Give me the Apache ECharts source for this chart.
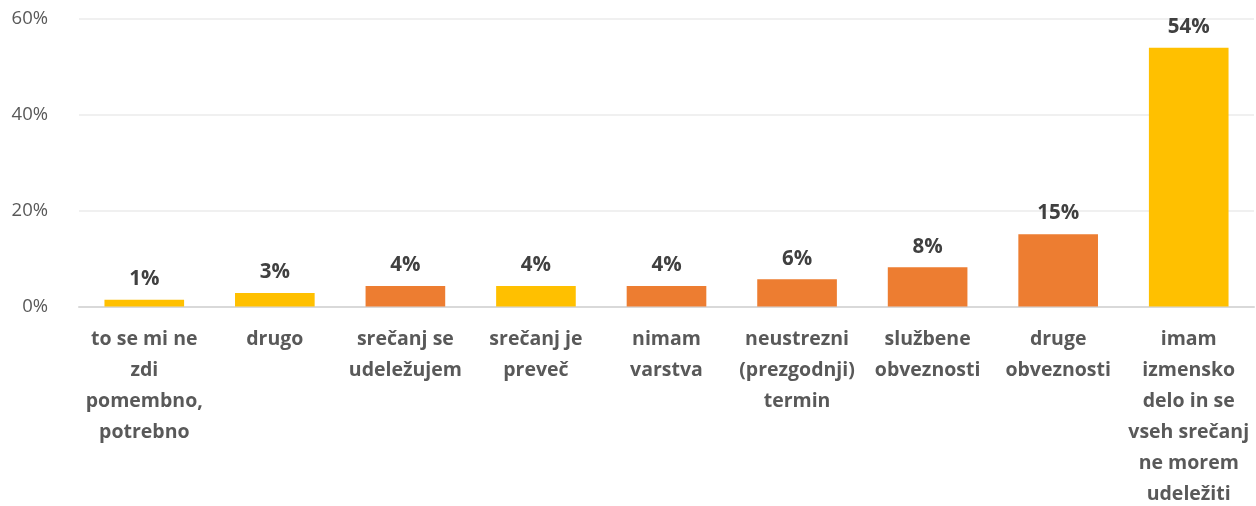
<!DOCTYPE html>
<html>
<head>
<meta charset="utf-8">
<script src="https://cdn.jsdelivr.net/npm/echarts@6/dist/echarts.min.js"></script>
<style>html,body{margin:0;padding:0;background:#fff}#c{width:1256px;height:506px}</style>
</head>
<body>
<div id="c"></div>
<script>
const categories = [
  "to se mi ne\nzdi\npomembno,\npotrebno",
  "drugo",
  "srečanj se\nudeležujem",
  "srečanj je\npreveč",
  "nimam\nvarstva",
  "neustrezni\n(prezgodnji)\ntermin",
  "službene\nobveznosti",
  "druge\nobveznosti",
  "imam\nizmensko\ndelo in se\nvseh srečanj\nne morem\nudeležiti"
];
const values = [1.4, 2.8, 4.3, 4.3, 4.3, 5.7, 8.2, 15.1, 54.0];
const yTicks = [0, 20, 40, 60];
const barColors = ["#FFC000","#FFC000","#ED7D31","#FFC000","#ED7D31","#ED7D31","#ED7D31","#ED7D31","#FFC000"];

const font = "'Open Sans', 'Noto Sans', sans-serif";
const chart = echarts.init(document.getElementById('c'));
chart.setOption({
  animation: false,
  grid: { left: 79, right: 2, top: 19, bottom: 199.5, containLabel: false, outerBoundsMode: 'none' },
  xAxis: {
    type: 'category',
    data: categories,
    axisLine: { lineStyle: { color: '#D9D9D9', width: 2 } },
    axisTick: { show: false },
    axisLabel: {
      interval: 0, margin: 17, color: '#595959', fontFamily: font,
      fontWeight: 'bold', fontSize: 19.5, lineHeight: 31, align: 'center', verticalAlign: 'top'
    }
  },
  yAxis: {
    type: 'value', min: yTicks[0], max: yTicks[yTicks.length-1], interval: 20,
    axisLine: { show: false }, axisTick: { show: false },
    splitLine: { lineStyle: { color: '#EBEBEB', width: 1.5 } },
    axisLabel: { formatter: '{value}%', color: '#595959', fontFamily: font, fontSize: 18.5, margin: 31 }
  },
  series: [{
    type: 'bar',
    barWidth: '61%',
    data: values.map((v, i) => ({ value: v, itemStyle: { color: barColors[i] } })),
    label: {
      show: true, position: 'top', distance: 10,
      formatter: p => Math.round(p.value) + '%',
      color: '#404040', fontFamily: font, fontWeight: 'bold', fontSize: 20.5
    }
  }]
});
</script>
</body>
</html>
